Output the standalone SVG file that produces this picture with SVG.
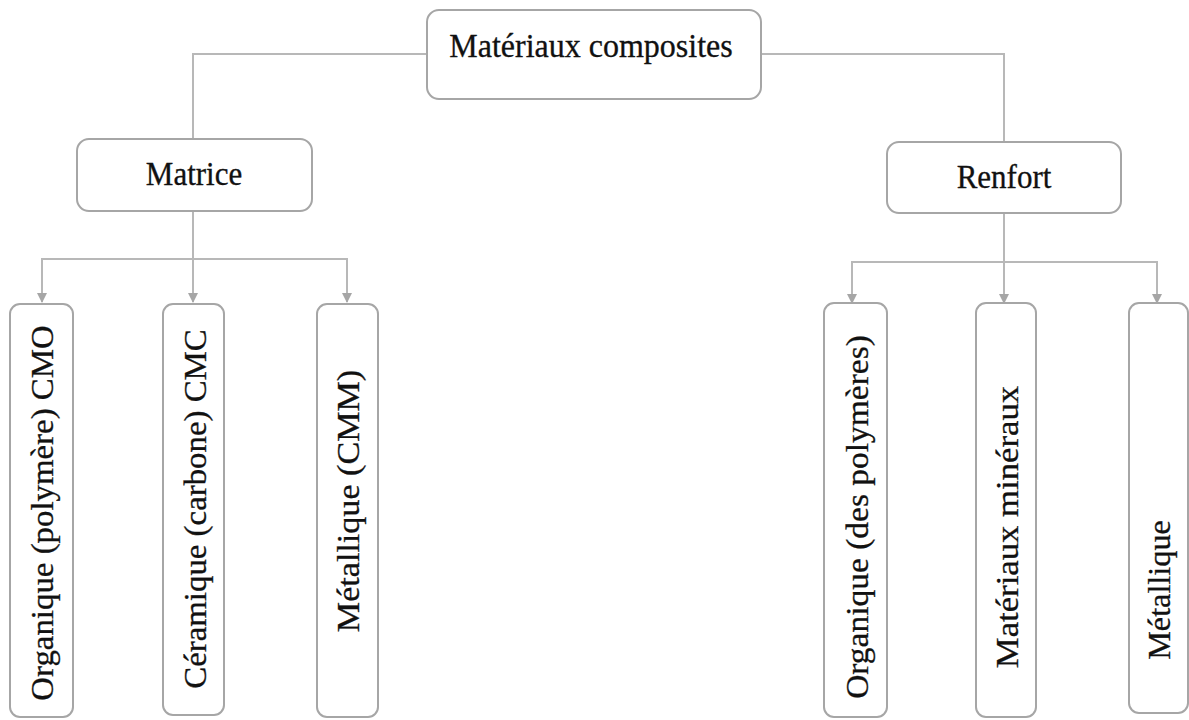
<svg xmlns="http://www.w3.org/2000/svg" width="1189" height="720" viewBox="0 0 1189 720">
<style>
.box{fill:#ffffff;stroke:#a6a6a6;stroke-width:2}
.ln{fill:none;stroke:#b8b8b8;stroke-width:2}
.t{font-family:"Liberation Serif","Times New Roman",serif;font-size:31px;fill:#111111;stroke:#111111;stroke-width:0.3;text-anchor:middle}
</style>
<defs>
<marker id="arr" markerWidth="10" markerHeight="10" refX="9" refY="5" orient="auto" markerUnits="userSpaceOnUse">
<path d="M0,0 L10,5 L0,10 Z" fill="#a6a6a6"/>
</marker>
</defs>
<rect width="1189" height="720" fill="#ffffff"/>
<g id="connectors">
<path class="ln" d="M427,54 H193 V139"/>
<path class="ln" d="M761,54 H1004 V142"/>
<path class="ln" d="M193,211 V302" marker-end="url(#arr)"/>
<path class="ln" d="M193,259 H42 V302" marker-end="url(#arr)"/>
<path class="ln" d="M193,259 H347 V302" marker-end="url(#arr)"/>
<path class="ln" d="M1004,213 V303" marker-end="url(#arr)"/>
<path class="ln" d="M1004,262 H852 V303" marker-end="url(#arr)"/>
<path class="ln" d="M1004,262 H1157 V303" marker-end="url(#arr)"/>
</g>
<g id="n-root">
<rect class="box" x="427" y="10" width="334" height="89" rx="12"/>
<text class="t" transform="translate(591,57) scale(1,1.08)" style="font-size:32px">Matériaux composites</text>
</g>
<g id="n-matrice">
<rect class="box" x="77" y="139" width="235" height="72" rx="12"/>
<text class="t" transform="translate(194,185) scale(1,1.08)">Matrice</text>
</g>
<g id="n-renfort">
<rect class="box" x="887" y="142" width="234" height="71" rx="12"/>
<text class="t" transform="translate(1004,188) scale(1,1.08)">Renfort</text>
</g>
<g id="n-cmo">
<rect class="box" x="10" y="304" width="63" height="413" rx="10"/>
<text class="t" transform="translate(42,513) rotate(-90) scale(1.06,1)" y="11">Organique (polymère) CMO</text>
</g>
<g id="n-cmc">
<rect class="box" x="163" y="304" width="61" height="411" rx="10"/>
<text class="t" transform="translate(194,509) rotate(-90) scale(1.06,1)" y="12">Céramique (carbone) CMC</text>
</g>
<g id="n-cmm">
<rect class="box" x="317" y="304" width="61" height="413" rx="10"/>
<text class="t" transform="translate(347,501) rotate(-90) scale(1.1,1)" y="12">Métallique (CMM)</text>
</g>
<g id="n-org">
<rect class="box" x="824" y="303" width="63" height="414" rx="10"/>
<text class="t" transform="translate(856,517) rotate(-90) scale(1.08,1)" y="12">Organique (des polymères)</text>
</g>
<g id="n-min">
<rect class="box" x="976" y="303" width="60" height="414" rx="10"/>
<text class="t" transform="translate(1006,527) rotate(-90) scale(1.12,1)" y="12">Matériaux minéraux</text>
</g>
<g id="n-met">
<rect class="box" x="1129" y="303" width="59" height="410" rx="10"/>
<text class="t" transform="translate(1158,590) rotate(-90) scale(1.04,1)" y="12">Métallique</text>
</g>
</svg>
